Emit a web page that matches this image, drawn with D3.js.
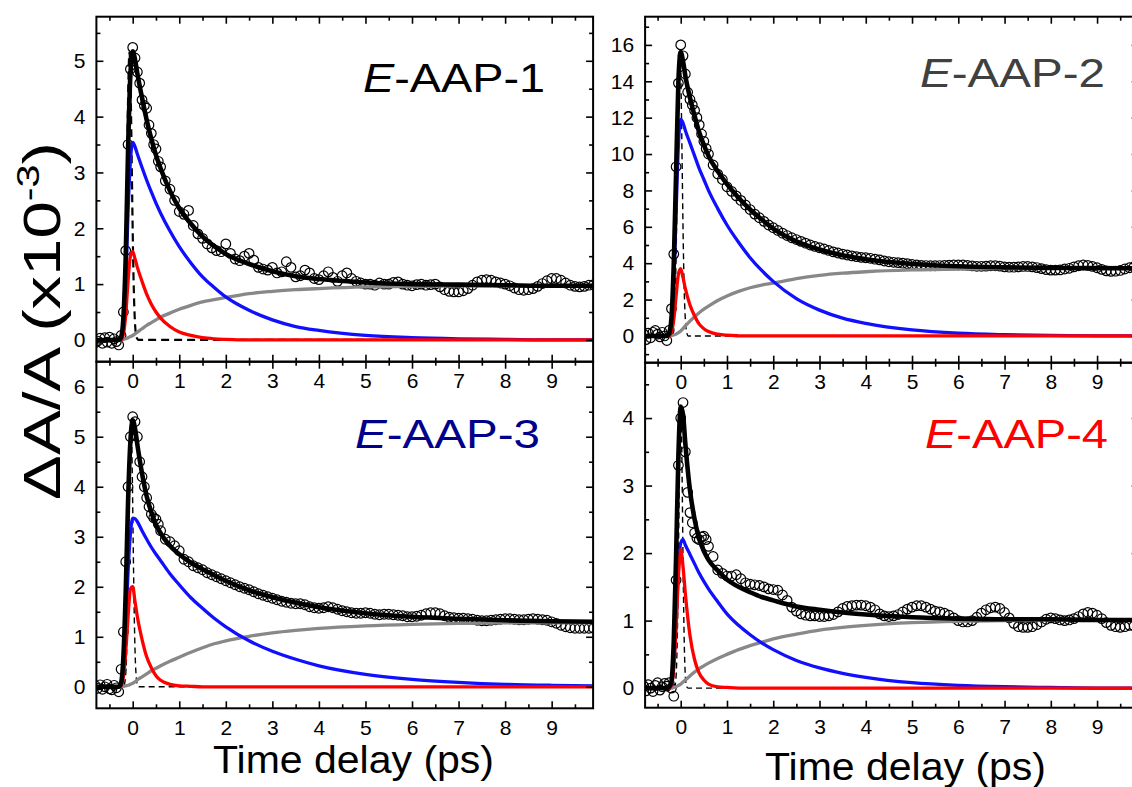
<!DOCTYPE html>
<meta charset="utf-8">
<style>
    body { margin: 0; background: #fff; }
    svg { display: block; }
    text { font-family: "Liberation Sans", Arial, sans-serif; }
    .tick text { font-size: 21px; fill: #000; }
    .tick line { stroke: #000; stroke-width: 1.6px; }
</style>
<body>
<script src="https://d3js.org/d3.v7.min.js"></script>
<script>
// time delays of the measured points (ps)
var delays = [-0.8, -0.75, -0.7, -0.65, -0.6, -0.55, -0.5, -0.45, -0.4, -0.35, -0.3, -0.25, -0.2, -0.15, -0.1,
    -0.05, 0, 0.05, 0.1, 0.15, 0.2, 0.25, 0.3, 0.35, 0.4, 0.45, 0.5, 0.55, 0.6,
    0.7, 0.8, 0.9,
    1.0, 1.1, 1.2, 1.3, 1.4, 1.5, 1.6, 1.7, 1.8, 1.9,
    2.0, 2.1, 2.2, 2.3, 2.4, 2.5, 2.6, 2.7, 2.8, 2.9,
    3.0, 3.1, 3.2, 3.3, 3.4, 3.5, 3.6, 3.7, 3.8, 3.9,
    4.0, 4.1, 4.2, 4.3, 4.4, 4.5, 4.6, 4.7, 4.8, 4.9,
    5.0, 5.1, 5.2, 5.3, 5.4, 5.5, 5.6, 5.7, 5.8, 5.9,
    6.0, 6.1, 6.2, 6.3, 6.4, 6.5, 6.6, 6.7, 6.8, 6.9,
    7.0, 7.1, 7.2, 7.3, 7.4, 7.5, 7.6, 7.7, 7.8, 7.9,
    8.0, 8.1, 8.2, 8.3, 8.4, 8.5, 8.6, 8.7, 8.8, 8.9,
    9.0, 9.1, 9.2, 9.3, 9.4, 9.5, 9.6, 9.7, 9.8, 9.9];

// measured dA/A (x10^-3)
var aap1Signal = [-0.05, -0.02, 0.03, -0.06, 0.04, -0.04, 0.05, -0.06, 0.02, -0.03, -0.09, 0.08, 0.5, 1.6, 3.5,
    4.85, 5.24, 5.05, 4.8, 4.6, 4.3, 4.2, 4.15, 3.85, 3.7, 3.5, 3.42, 3.2, 3.1,
    2.85, 2.7, 2.5,
    2.3, 2.25, 2.32, 2.05, 1.9, 1.82, 1.72, 1.65, 1.6, 1.58,
    1.72, 1.55, 1.45, 1.42, 1.5, 1.55, 1.43, 1.3, 1.27, 1.25,
    1.3, 1.2, 1.22, 1.4, 1.3, 1.13, 1.15, 1.25, 1.2, 1.1,
    1.08, 1.15, 1.22, 1.12, 1.05, 1.15, 1.2, 1.1, 1.05, 1.02,
    1.0, 1.0, 0.98, 1.02, 1.0, 1.0, 1.03, 1.04, 1.0, 0.98,
    0.97, 0.99, 1.0, 0.98, 0.99, 1.0, 0.95, 0.9, 0.87, 0.86,
    0.86, 0.88, 0.92, 0.98, 1.04, 1.07, 1.08, 1.07, 1.04, 1.02,
    1.0, 0.97, 0.93, 0.9, 0.89, 0.9, 0.92, 0.96, 1.01, 1.06,
    1.1, 1.1, 1.07, 1.02, 0.98, 0.96, 0.95, 0.96, 0.98, 0.99];
var aap2Signal = [0.1, -0.2, 0.15, -0.1, 0.2, 0.3, 0.1, -0.05, 0.2, 0.0, -0.25, 0.3, 1.5, 4.5, 9.3,
    13.9, 16.0, 15.4, 14.4, 13.4, 13.0, 12.7, 12.4, 12.0, 11.6, 11.1, 10.7, 10.3, 10.0,
    9.4, 8.9, 8.6,
    8.2, 7.95, 7.7, 7.45, 7.2, 6.95, 6.7, 6.5, 6.3, 6.1,
    5.95, 5.8, 5.65, 5.52, 5.4, 5.3, 5.2, 5.1, 5.0, 4.92,
    4.85, 4.78, 4.7, 4.62, 4.56, 4.5, 4.45, 4.4, 4.36, 4.32,
    4.3, 4.27, 4.22, 4.18, 4.12, 4.08, 4.05, 4.03, 4.0, 3.97,
    3.93, 3.9, 3.88, 3.87, 3.86, 3.86, 3.87, 3.88, 3.89, 3.9,
    3.9, 3.9, 3.88, 3.85, 3.83, 3.83, 3.84, 3.86, 3.86, 3.84,
    3.8, 3.78, 3.78, 3.8, 3.82, 3.82, 3.8, 3.76, 3.7, 3.65,
    3.62, 3.62, 3.63, 3.68, 3.72, 3.8, 3.86, 3.9, 3.88, 3.82,
    3.75, 3.66, 3.58, 3.55, 3.56, 3.6, 3.68, 3.75, 3.8, 3.8];
var aap3Signal = [0.02, -0.03, 0.04, -0.05, 0.0, 0.05, -0.04, -0.06, 0.03, -0.02, -0.1, 0.35, 1.1, 2.5, 4.0,
    5.0, 5.4, 5.3, 5.0, 4.5, 4.2, 4.0, 3.78, 3.6, 3.45, 3.38, 3.35, 3.25, 3.12,
    2.95, 2.9, 2.82,
    2.72, 2.55, 2.5, 2.42, 2.38, 2.34, 2.28, 2.24, 2.2, 2.16,
    2.12, 2.08, 2.04, 2.0, 1.97, 1.94, 1.9, 1.86, 1.83, 1.8,
    1.77, 1.74, 1.71, 1.69, 1.67, 1.66, 1.66, 1.64, 1.6, 1.58,
    1.57, 1.58, 1.6, 1.58, 1.55, 1.52, 1.5, 1.48, 1.47, 1.47,
    1.48, 1.47, 1.45, 1.44, 1.45, 1.45, 1.44, 1.43, 1.42, 1.4,
    1.4, 1.41, 1.43, 1.46, 1.48, 1.48, 1.46, 1.42, 1.39, 1.38,
    1.37, 1.37, 1.36, 1.35, 1.33, 1.32, 1.32, 1.33, 1.34, 1.35,
    1.36, 1.36, 1.35, 1.34, 1.34, 1.35, 1.36, 1.35, 1.34, 1.33,
    1.3, 1.27, 1.23, 1.2, 1.18, 1.17, 1.17, 1.17, 1.17, 1.17];
var aap4Signal = [0.03, -0.04, 0.05, 0.0, -0.05, 0.04, 0.08, -0.03, 0.02, 0.07, 0.03, 0.08, 0.0, -0.12, 1.6,
    3.3, 4.0, 4.23, 3.5, 2.9, 2.6, 2.45, 2.3, 2.22, 2.2, 2.24, 2.25, 2.2, 2.1,
    1.95, 1.75, 1.7,
    1.66, 1.66, 1.68, 1.62, 1.56, 1.54, 1.53, 1.52, 1.5, 1.47,
    1.46, 1.45, 1.38, 1.3, 1.2, 1.14, 1.1, 1.08, 1.07, 1.07,
    1.06, 1.06, 1.07, 1.09, 1.13, 1.18, 1.21, 1.22, 1.23, 1.23,
    1.22, 1.2, 1.16, 1.1, 1.07, 1.06, 1.07, 1.09, 1.13, 1.17,
    1.2, 1.22, 1.22, 1.2, 1.17, 1.14, 1.13, 1.11, 1.08, 1.04,
    1.0, 0.98, 0.98, 1.0, 1.05, 1.11, 1.16, 1.19, 1.2, 1.18,
    1.12, 1.04, 0.96, 0.91, 0.9, 0.9, 0.91, 0.94, 0.98, 1.02,
    1.04, 1.03, 1.01, 1.0, 1.01, 1.03, 1.06, 1.1, 1.12, 1.11,
    1.08, 1.03, 0.97, 0.93, 0.91, 0.9, 0.91, 0.93, 0.92, 0.9];

// delays at which the fit and its components are read
var fitDelays = [-0.8, -0.3, -0.25, -0.2, -0.15, -0.1, -0.05, 0, 0.05, 0.1, 0.2, 0.3, 0.4, 0.5, 0.6,
    0.8, 1.0, 1.25, 1.5, 1.75, 2.0, 2.5, 3.0, 3.5, 4.0, 5.0, 6.0, 7.0, 8.0, 9.0, 9.9];

var aap1Fit  = [0, 0, 0.05, 0.4, 1.5, 3.4, 4.75, 5.17, 5.02, 4.77, 4.34, 3.94, 3.6, 3.31, 3.07, 2.67, 2.36, 2.08, 1.85, 1.68, 1.54, 1.36, 1.23, 1.14, 1.09, 1.03, 1.0, 0.99, 0.98, 0.97, 0.97];
var aap1Fast = [null, 0, 0, 0.1, 0.45, 1.05, 1.5, 1.58, 1.45, 1.3, 1.05, 0.82, 0.64, 0.5, 0.39, 0.24, 0.14, 0.08, 0.04, 0.02, 0.01, 0, 0, 0, 0, 0, 0, 0, 0, 0, 0];
var aap1Mid  = [null, 0, 0.02, 0.25, 1.0, 2.3, 3.2, 3.54, 3.46, 3.33, 3.09, 2.86, 2.65, 2.45, 2.27, 1.95, 1.67, 1.38, 1.13, 0.94, 0.77, 0.53, 0.36, 0.24, 0.17, 0.08, 0.04, 0.02, 0.01, 0, 0];
var aap1Rise = [null, 0, 0, 0.01, 0.02, 0.04, 0.06, 0.08, 0.11, 0.14, 0.2, 0.26, 0.31, 0.36, 0.41, 0.48, 0.55, 0.62, 0.68, 0.72, 0.76, 0.83, 0.87, 0.9, 0.92, 0.95, 0.96, 0.97, 0.97, 0.97, 0.97];

var aap2Fit  = [0, 0, 0.15, 1.0, 4.0, 9.0, 14.0, 15.6, 15.1, 14.3, 13.1, 12.1, 11.2, 10.5, 9.9, 9.05, 8.35, 7.6, 6.95, 6.4, 5.9, 5.2, 4.75, 4.43, 4.22, 3.96, 3.83, 3.77, 3.74, 3.73, 3.72];
var aap2Fast = [null, 0, 0.02, 0.2, 0.9, 2.2, 3.4, 3.7, 3.2, 2.6, 1.7, 1.1, 0.65, 0.4, 0.25, 0.1, 0.04, 0.01, 0, 0, 0, 0, 0, 0, 0, 0, 0, 0, 0, 0, 0];
var aap2Mid  = [null, 0, 0.1, 0.8, 3.0, 6.8, 10.5, 11.9, 11.7, 11.3, 10.6, 9.9, 9.2, 8.6, 8.0, 7.0, 6.1, 5.15, 4.3, 3.6, 3.0, 2.05, 1.42, 0.98, 0.69, 0.33, 0.15, 0.07, 0.03, 0.01, 0];
var aap2Rise = [null, 0, 0, 0.02, 0.05, 0.1, 0.18, 0.27, 0.4, 0.55, 0.82, 1.06, 1.28, 1.47, 1.64, 1.95, 2.2, 2.45, 2.65, 2.8, 2.9, 3.15, 3.33, 3.45, 3.53, 3.63, 3.68, 3.7, 3.71, 3.72, 3.72];

var aap3Fit  = [0, 0, 0.08, 0.6, 1.9, 3.7, 4.9, 5.33, 5.16, 4.84, 4.27, 3.81, 3.49, 3.24, 3.07, 2.82, 2.65, 2.48, 2.35, 2.23, 2.12, 1.93, 1.79, 1.68, 1.59, 1.47, 1.4, 1.36, 1.33, 1.31, 1.3];
var aap3Fast = [null, 0, 0.02, 0.2, 0.7, 1.4, 1.95, 2.0, 1.7, 1.4, 0.95, 0.6, 0.38, 0.22, 0.13, 0.05, 0.02, 0.01, 0, 0, 0, 0, 0, 0, 0, 0, 0, 0, 0, 0, 0];
var aap3Mid  = [null, 0, 0.05, 0.4, 1.2, 2.3, 3.05, 3.37, 3.36, 3.3, 3.12, 2.95, 2.79, 2.65, 2.52, 2.26, 2.04, 1.78, 1.57, 1.37, 1.2, 0.92, 0.71, 0.55, 0.42, 0.25, 0.15, 0.09, 0.05, 0.03, 0.02];
var aap3Rise = [null, 0, 0, 0.01, 0.02, 0.03, 0.05, 0.07, 0.1, 0.14, 0.2, 0.26, 0.32, 0.37, 0.42, 0.51, 0.59, 0.69, 0.78, 0.86, 0.92, 1.01, 1.08, 1.13, 1.17, 1.22, 1.25, 1.27, 1.28, 1.28, 1.28];

var aap4Fit  = [0, 0, 0.02, 0.1, 0.7, 1.95, 3.45, 4.17, 4.05, 3.62, 2.93, 2.5, 2.21, 2.03, 1.9, 1.74, 1.61, 1.5, 1.42, 1.35, 1.3, 1.21, 1.16, 1.12, 1.09, 1.05, 1.03, 1.02, 1.02, 1.01, 1.01];
var aap4Fast = [null, 0, 0, 0.05, 0.3, 0.9, 1.65, 2.05, 1.8, 1.4, 0.78, 0.42, 0.22, 0.12, 0.06, 0.02, 0.01, 0, 0, 0, 0, 0, 0, 0, 0, 0, 0, 0, 0, 0, 0];
var aap4Mid  = [null, 0, 0, 0.05, 0.35, 1.0, 1.75, 2.15, 2.2, 2.12, 1.98, 1.84, 1.7, 1.58, 1.47, 1.28, 1.1, 0.93, 0.79, 0.67, 0.57, 0.41, 0.3, 0.22, 0.16, 0.08, 0.04, 0.02, 0.01, 0, 0];
var aap4Rise = [null, 0, 0, 0, 0.01, 0.02, 0.04, 0.06, 0.09, 0.12, 0.18, 0.24, 0.29, 0.33, 0.37, 0.44, 0.5, 0.57, 0.63, 0.68, 0.73, 0.8, 0.86, 0.9, 0.93, 0.97, 0.99, 1.0, 1.01, 1.01, 1.01];

// instrument response (dashed)
var irfDelays = [-0.8, -0.25, -0.2, -0.16, -0.13, -0.1, -0.07, -0.05, -0.03, -0.01, 0.01, 0.03, 0.05, 0.07, 0.1, 0.13, 0.16, 9.9];
var aap1Irf = [0, 0.01, 0.17, 1.0, 2.5, 4.3, 5.15, 4.75, 3.74, 2.5, 1.43, 0.7, 0.29, 0.1, 0.02, 0, 0, 0];
var aap2Irf = [0, 0, 0.02, 0.31, 1.4, 4.4, 9.6, 13.2, 15.5, 15.5, 13.2, 9.6, 5.9, 3.1, 0.9, 0.2, 0, 0];
var aap3Irf = [0, 0, 0, 0.15, 0.72, 2.2, 4.3, 5.2, 5.2, 4.3, 2.9, 1.6, 0.72, 0.27, 0.04, 0, 0, 0];
var aap4Irf = [0, 0, 0, 0, 0.02, 0.18, 0.9, 1.9, 3.13, 4.0, 4.0, 3.13, 1.9, 0.9, 0.18, 0.02, 0, 0];

// ticks
var xMajor = [0, 1, 2, 3, 4, 5, 6, 7, 8, 9];
var xMinor = [-0.5, 0.5, 1.5, 2.5, 3.5, 4.5, 5.5, 6.5, 7.5, 8.5, 9.5];
var aap1YMajor = [0, 1, 2, 3, 4, 5], aap1YMinor = [0.5, 1.5, 2.5, 3.5, 4.5, 5.5];
var aap2YMajor = [0, 2, 4, 6, 8, 10, 12, 14, 16], aap2YMinor = [-1, 1, 3, 5, 7, 9, 11, 13, 15, 17];
var aap3YMajor = [0, 1, 2, 3, 4, 5, 6], aap3YMinor = [0.5, 1.5, 2.5, 3.5, 4.5, 5.5];
var aap4YMajor = [0, 1, 2, 3, 4], aap4YMinor = [0.5, 1.5, 2.5, 3.5, 4.5];

var sampleNames = ["AAP-1", "AAP-2", "AAP-3", "AAP-4"];
var sampleColors = ["#000000", "#404040", "#00008b", "#ff0000"];

var W = 1132, H = 787;
var svg = d3.select("body").append("svg").attr("width", W).attr("height", H);

var panels = [
    {signal: aap1Signal, fit: aap1Fit, fast: aap1Fast, mid: aap1Mid, rise: aap1Rise, irf: aap1Irf,
     yMajor: aap1YMajor, yMinor: aap1YMinor, xDom: [-0.78, 9.89], xR: [96.4, 593.1], yDom: [-0.39, 5.79], yR: [361.7, 16.7],
     dashW: 2.2, label: [363, 91.7, 182]},
    {signal: aap2Signal, fit: aap2Fit, fast: aap2Fast, mid: aap2Mid, rise: aap2Rise, irf: aap2Irf,
     yMajor: aap2YMajor, yMinor: aap2YMinor, xDom: [-0.77, 9.9], xR: [645.1, 1138.7], yDom: [-1.47, 17.55], yR: [362.7, 16.7],
     dashW: 1.4, label: [920, 86.7, 185]},
    {signal: aap3Signal, fit: aap3Fit, fast: aap3Fast, mid: aap3Mid, rise: aap3Rise, irf: aap3Irf,
     yMajor: aap3YMajor, yMinor: aap3YMinor, xDom: [-0.78, 9.89], xR: [96.4, 593.1], yDom: [-0.43, 6.5], yR: [708.3, 361.7],
     dashW: 1.4, label: [355, 448.3, 185]},
    {signal: aap4Signal, fit: aap4Fit, fast: aap4Fast, mid: aap4Mid, rise: aap4Rise, irf: aap4Irf,
     yMajor: aap4YMajor, yMinor: aap4YMinor, xDom: [-0.77, 9.9], xR: [645.1, 1138.7], yDom: [-0.29, 4.82], yR: [707.7, 362.7],
     dashW: 1.4, label: [925, 448.3, 183]}
];

panels.forEach(function(p, i) {
    var x = d3.scaleLinear().domain(p.xDom).range(p.xR),
        y = d3.scaleLinear().domain(p.yDom).range(p.yR);
    var x0 = p.xR[0], x1 = p.xR[1], top = p.yR[1], bot = p.yR[0];

    var g = svg.append("g");
    g.append("clipPath").attr("id", "clip" + i)
        .append("rect").attr("x", x0).attr("y", top).attr("width", x1 - x0).attr("height", bot - top);
    var plot = g.append("g").attr("clip-path", "url(#clip" + i + ")");

    // data circles
    plot.selectAll("circle")
        .data(p.signal)
        .enter().append("circle")
        .attr("cx", function(d, j) { return x(delays[j]); })
        .attr("cy", function(d) { return y(d); })
        .attr("r", 4.8)
        .attr("fill", "none")
        .attr("stroke", "#000")
        .attr("stroke-width", 1.2);

    function curve(times, vals) {
        return d3.line()
            .defined(function(d) { return d[1] != null; })
            .x(function(d) { return x(d[0]); })
            .y(function(d) { return y(d[1]); })
            .curve(d3.curveMonotoneX)(times.map(function(t, j) { return [t, vals[j]]; }));
    }

    plot.append("path").attr("d", curve(irfDelays, p.irf))
        .attr("fill", "none").attr("stroke", "#000").attr("stroke-width", p.dashW)
        .attr("stroke-dasharray", i == 0 ? "8,5" : "6,4");
    plot.append("path").attr("d", curve(fitDelays, p.rise))
        .attr("fill", "none").attr("stroke", "#888888").attr("stroke-width", 3.3);
    plot.append("path").attr("d", curve(fitDelays, p.mid))
        .attr("fill", "none").attr("stroke", "#1010ff").attr("stroke-width", 3.3);
    plot.append("path").attr("d", curve(fitDelays, p.fast))
        .attr("fill", "none").attr("stroke", "#ff0000").attr("stroke-width", 3.3);
    plot.append("path").attr("d", curve(fitDelays, p.fit))
        .attr("fill", "none").attr("stroke", "#000").attr("stroke-width", 4.6);

    // axes, ticks pointing inward
    function ax(axis, tx, ty) {
        var a = g.append("g").attr("transform", "translate(" + tx + "," + ty + ")").call(axis);
        a.select(".domain").remove();
        return a;
    }
    ax(d3.axisBottom(x).tickValues(xMajor).tickSize(-7).tickPadding(11.5).tickFormat(d3.format("d")), 0, bot);
    ax(d3.axisBottom(x).tickValues(xMinor).tickSize(-4).tickFormat(""), 0, bot);
    ax(d3.axisTop(x).tickValues(xMajor).tickSize(-7).tickFormat(""), 0, top);
    ax(d3.axisTop(x).tickValues(xMinor).tickSize(-4).tickFormat(""), 0, top);
    ax(d3.axisLeft(y).tickValues(p.yMajor).tickSize(-7).tickPadding(11).tickFormat(d3.format("d")), x0, 0);
    ax(d3.axisLeft(y).tickValues(p.yMinor).tickSize(-4).tickFormat(""), x0, 0);
    ax(d3.axisRight(y).tickValues(p.yMajor).tickSize(-7).tickFormat(""), x1, 0);
    ax(d3.axisRight(y).tickValues(p.yMinor).tickSize(-4).tickFormat(""), x1, 0);

    g.append("rect").attr("x", x0).attr("y", top).attr("width", x1 - x0).attr("height", bot - top)
        .attr("fill", "none").attr("stroke", "#000").attr("stroke-width", 2);

    var lab = g.append("text")
        .attr("x", p.label[0]).attr("y", p.label[1])
        .attr("font-size", 40)
        .attr("textLength", p.label[2]).attr("lengthAdjust", "spacingAndGlyphs")
        .attr("fill", sampleColors[i]);
    lab.append("tspan").attr("font-style", "italic").text("E");
    lab.append("tspan").text("-" + sampleNames[i]);
});

// axis titles
[[213, 773], [765, 780]].forEach(function(pos) {
    svg.append("text").attr("x", pos[0]).attr("y", pos[1])
        .attr("font-size", 38).attr("textLength", 281).attr("lengthAdjust", "spacingAndGlyphs")
        .text("Time delay (ps)");
});

var yt = svg.append("text")
    .attr("transform", "translate(60,500) rotate(-90)")
    .attr("font-size", 52)
    .attr("textLength", 358).attr("lengthAdjust", "spacingAndGlyphs");
yt.append("tspan").text("\u0394A/A (x10");
yt.append("tspan").attr("font-size", 32).attr("dy", -21).text("-3");
yt.append("tspan").attr("dy", 21).text(")");
</script>
</body>
